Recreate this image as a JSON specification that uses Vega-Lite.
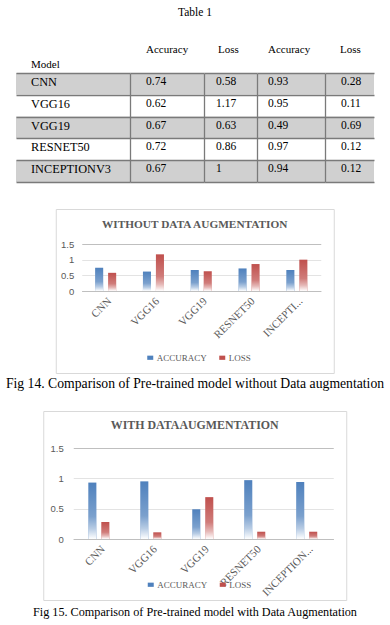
{
  "$schema": "https://vega.github.io/schema/vega-lite/v6.json",
  "background": "white",
  "padding": 0,
  "config": {"view": {"stroke": null}, "font": "Liberation Serif", "legend": {"padding": 0}, "text": {"font": "Liberation Serif"}},
  "datasets": {
    "without": [
      {"Model": "CNN", "ACCURACY": 0.74, "LOSS": 0.58},
      {"Model": "VGG16", "ACCURACY": 0.62, "LOSS": 1.17},
      {"Model": "VGG19", "ACCURACY": 0.67, "LOSS": 0.63},
      {"Model": "RESNET50", "ACCURACY": 0.72, "LOSS": 0.86},
      {"Model": "INCEPTIONV3", "ACCURACY": 0.67, "LOSS": 1}
    ],
    "with": [
      {"Model": "CNN", "ACCURACY": 0.93, "LOSS": 0.28},
      {"Model": "VGG16", "ACCURACY": 0.95, "LOSS": 0.11},
      {"Model": "VGG19", "ACCURACY": 0.49, "LOSS": 0.69},
      {"Model": "RESNET50", "ACCURACY": 0.97, "LOSS": 0.12},
      {"Model": "INCEPTIONV3", "ACCURACY": 0.94, "LOSS": 0.12}
    ]
  },
  "spacing": 0,
  "bounds": "full",
  "center": true,
  "resolve": {"scale": {"color": "independent"}, "legend": {"color": "independent"}},
  "vconcat": [
    {
      "width": 390, "height": 26,
      "data": {"values": [{"t": "Table 1"}]},
      "mark": {"type": "text", "font": "Liberation Serif", "fontSize": 11.5, "color": "black"},
      "encoding": {"text": {"field": "t", "type": "nominal"}}
    },
    {
      "width": 390, "height": 17,
      "data": {"values": [{"t": ""}]},
      "mark": {"type": "text"},
      "encoding": {"text": {"field": "t", "type": "nominal"}}
    },
    {
      "spacing": 0,
      "bounds": "flush",
      "hconcat": [
        {
          "width": 114, "height": 109,
          "data": {"name": "without"},
          "encoding": {
            "x": {"datum": "Model", "type": "nominal", "scale": {"paddingInner": 0, "paddingOuter": 0},
              "axis": {"orient": "top", "labelAlign": "left", "labelOffset": -42, "labelPadding": 4, "labelFontSize": 11, "labelColor": "black", "labelFont": "Liberation Serif", "ticks": false, "domain": false, "grid": false, "title": null, "labelAngle": 0}},
            "y": {"field": "Model", "type": "nominal", "sort": ["CNN", "VGG16", "VGG19", "RESNET50", "INCEPTIONV3"], "scale": {"paddingInner": 0, "paddingOuter": 0},
              "axis": {"labels": false, "ticks": false, "domain": false, "grid": true, "gridColor": "#7a7a7a", "gridWidth": 1.3, "gridOpacity": 1, "tickBand": "extent", "title": null, "zindex": 1}}
          },
          "layer": [
            {"mark": {"type": "rect"}, "encoding": {"fill": {"condition": {"test": "indexof(['CNN','VGG19','INCEPTIONV3'], datum.Model) >= 0", "value": "#d0d0d0"}, "value": "#ffffff"}}},
            {"mark": {"type": "text", "align": "left", "baseline": "top", "dx": 15, "dy": 3, "font": "Liberation Serif", "fontSize": 12.3, "color": "black"},
              "encoding": {"x": {"datum": "Model", "type": "nominal", "bandPosition": 0}, "y": {"field": "Model", "type": "nominal", "sort": ["CNN", "VGG16", "VGG19", "RESNET50", "INCEPTIONV3"], "bandPosition": 0}, "text": {"field": "Model", "type": "nominal"}}}
          ]
        },
        {
          "width": 74, "height": 109,
          "data": {"name": "without"},
          "encoding": {
            "x": {"datum": "Accuracy", "type": "nominal", "scale": {"paddingInner": 0, "paddingOuter": 0},
              "axis": {"orient": "top", "labelAlign": "left", "labelOffset": -21, "labelPadding": 19, "labelFontSize": 11, "labelColor": "black", "labelFont": "Liberation Serif", "ticks": false, "domain": false, "grid": false, "title": null, "labelAngle": 0}},
            "y": {"field": "Model", "type": "nominal", "sort": ["CNN", "VGG16", "VGG19", "RESNET50", "INCEPTIONV3"], "scale": {"paddingInner": 0, "paddingOuter": 0},
              "axis": {"labels": false, "ticks": false, "domain": true, "domainColor": "#7a7a7a", "domainWidth": 1.3, "grid": true, "gridColor": "#7a7a7a", "gridWidth": 1.3, "gridOpacity": 1, "tickBand": "extent", "title": null, "zindex": 1}}
          },
          "layer": [
            {"mark": {"type": "rect"}, "encoding": {"fill": {"condition": {"test": "indexof(['CNN','VGG19','INCEPTIONV3'], datum.Model) >= 0", "value": "#d0d0d0"}, "value": "#ffffff"}}},
            {"mark": {"type": "text", "align": "left", "baseline": "top", "dx": 16, "dy": 3, "font": "Liberation Serif", "fontSize": 11.5, "color": "black"},
              "encoding": {"x": {"datum": "Accuracy", "type": "nominal", "bandPosition": 0}, "y": {"field": "Model", "type": "nominal", "sort": ["CNN", "VGG16", "VGG19", "RESNET50", "INCEPTIONV3"], "bandPosition": 0}, "text": {"field": "ACCURACY", "type": "nominal"}}}
          ]
        },
        {
          "width": 53, "height": 109,
          "data": {"name": "without"},
          "encoding": {
            "x": {"datum": "Loss", "type": "nominal", "scale": {"paddingInner": 0, "paddingOuter": 0},
              "axis": {"orient": "top", "labelAlign": "left", "labelOffset": -12.5, "labelPadding": 19, "labelFontSize": 11, "labelColor": "black", "labelFont": "Liberation Serif", "ticks": false, "domain": false, "grid": false, "title": null, "labelAngle": 0}},
            "y": {"field": "Model", "type": "nominal", "sort": ["CNN", "VGG16", "VGG19", "RESNET50", "INCEPTIONV3"], "scale": {"paddingInner": 0, "paddingOuter": 0},
              "axis": {"labels": false, "ticks": false, "domain": true, "domainColor": "#7a7a7a", "domainWidth": 1.3, "grid": true, "gridColor": "#7a7a7a", "gridWidth": 1.3, "gridOpacity": 1, "tickBand": "extent", "title": null, "zindex": 1}}
          },
          "layer": [
            {"mark": {"type": "rect"}, "encoding": {"fill": {"condition": {"test": "indexof(['CNN','VGG19','INCEPTIONV3'], datum.Model) >= 0", "value": "#d0d0d0"}, "value": "#ffffff"}}},
            {"mark": {"type": "text", "align": "left", "baseline": "top", "dx": 12, "dy": 3, "font": "Liberation Serif", "fontSize": 11.5, "color": "black"},
              "encoding": {"x": {"datum": "Loss", "type": "nominal", "bandPosition": 0}, "y": {"field": "Model", "type": "nominal", "sort": ["CNN", "VGG16", "VGG19", "RESNET50", "INCEPTIONV3"], "bandPosition": 0}, "text": {"field": "LOSS", "type": "nominal"}}}
          ]
        },
        {
          "width": 68, "height": 109,
          "data": {"name": "with"},
          "encoding": {
            "x": {"datum": "Accuracy", "type": "nominal", "scale": {"paddingInner": 0, "paddingOuter": 0},
              "axis": {"orient": "top", "labelAlign": "left", "labelOffset": -23, "labelPadding": 19, "labelFontSize": 11, "labelColor": "black", "labelFont": "Liberation Serif", "ticks": false, "domain": false, "grid": false, "title": null, "labelAngle": 0}},
            "y": {"field": "Model", "type": "nominal", "sort": ["CNN", "VGG16", "VGG19", "RESNET50", "INCEPTIONV3"], "scale": {"paddingInner": 0, "paddingOuter": 0},
              "axis": {"labels": false, "ticks": false, "domain": true, "domainColor": "#7a7a7a", "domainWidth": 1.3, "grid": true, "gridColor": "#7a7a7a", "gridWidth": 1.3, "gridOpacity": 1, "tickBand": "extent", "title": null, "zindex": 1}}
          },
          "layer": [
            {"mark": {"type": "rect"}, "encoding": {"fill": {"condition": {"test": "indexof(['CNN','VGG19','INCEPTIONV3'], datum.Model) >= 0", "value": "#d0d0d0"}, "value": "#ffffff"}}},
            {"mark": {"type": "text", "align": "left", "baseline": "top", "dx": 11, "dy": 3, "font": "Liberation Serif", "fontSize": 11.5, "color": "black"},
              "encoding": {"x": {"datum": "Accuracy", "type": "nominal", "bandPosition": 0}, "y": {"field": "Model", "type": "nominal", "sort": ["CNN", "VGG16", "VGG19", "RESNET50", "INCEPTIONV3"], "bandPosition": 0}, "text": {"field": "ACCURACY", "type": "nominal"}}}
          ]
        },
        {
          "width": 49, "height": 109,
          "data": {"name": "with"},
          "encoding": {
            "x": {"datum": "Loss", "type": "nominal", "scale": {"paddingInner": 0, "paddingOuter": 0},
              "axis": {"orient": "top", "labelAlign": "left", "labelOffset": -9.5, "labelPadding": 19, "labelFontSize": 11, "labelColor": "black", "labelFont": "Liberation Serif", "ticks": false, "domain": false, "grid": false, "title": null, "labelAngle": 0}},
            "y": {"field": "Model", "type": "nominal", "sort": ["CNN", "VGG16", "VGG19", "RESNET50", "INCEPTIONV3"], "scale": {"paddingInner": 0, "paddingOuter": 0},
              "axis": {"labels": false, "ticks": false, "domain": true, "domainColor": "#7a7a7a", "domainWidth": 1.3, "grid": true, "gridColor": "#7a7a7a", "gridWidth": 1.3, "gridOpacity": 1, "tickBand": "extent", "title": null, "zindex": 1}}
          },
          "layer": [
            {"mark": {"type": "rect"}, "encoding": {"fill": {"condition": {"test": "indexof(['CNN','VGG19','INCEPTIONV3'], datum.Model) >= 0", "value": "#d0d0d0"}, "value": "#ffffff"}}},
            {"mark": {"type": "text", "align": "left", "baseline": "top", "dx": 16, "dy": 3, "font": "Liberation Serif", "fontSize": 11.5, "color": "black"},
              "encoding": {"x": {"datum": "Loss", "type": "nominal", "bandPosition": 0}, "y": {"field": "Model", "type": "nominal", "sort": ["CNN", "VGG16", "VGG19", "RESNET50", "INCEPTIONV3"], "bandPosition": 0}, "text": {"field": "LOSS", "type": "nominal"}}}
          ]
        }
      ]
    },
    {
      "width": 390, "height": 26,
      "data": {"values": [{"t": ""}]},
      "mark": {"type": "text"},
      "encoding": {"text": {"field": "t", "type": "nominal"}}
    },
    {
      "width": 278, "height": 164,
      "view": {"stroke": "#d9d9d9"},
      "title": {"text": "WITHOUT DATA AUGMENTATION", "font": "Liberation Serif", "fontSize": 11.3, "fontWeight": "bold", "color": "#595959", "offset": -30, "baseline": "alphabetic", "anchor": "middle"},
      "data": {"name": "without"},
      "transform": [{"fold": ["ACCURACY", "LOSS"], "as": ["series", "value"]}],
      "encoding": {
        "x": {"field": "Model", "type": "nominal", "sort": ["CNN", "VGG16", "VGG19", "RESNET50", "INCEPTIONV3"],
          "scale": {"range": [26, 265], "paddingInner": 0.56, "paddingOuter": 0.28},
          "axis": {"title": null, "orient": "bottom", "offset": -82, "ticks": false, "domainColor": "#bfbfbf", "labelAngle": -45, "labelFont": "Liberation Serif", "labelFontSize": 11, "labelColor": "#595959", "labelPadding": 4, "grid": false, "labelExpr": "datum.label == 'INCEPTIONV3' ? 'INCEPTI...' : datum.label"}},
        "xOffset": {"field": "series", "type": "nominal", "scale": {"paddingInner": 0.38, "paddingOuter": 0}},
        "y": {"field": "value", "type": "quantitative",
          "scale": {"domain": [0, 1.5], "range": [82, 35], "nice": false},
          "axis": {"title": null, "values": [0, 0.5, 1, 1.5], "labelExpr": "'' + datum.value", "offset": -20, "ticks": false, "domain": false, "grid": true, "gridColor": {"condition": {"test": "datum.value == 1.5 || datum.value == 0", "value": "#bfbfbf"}, "value": "#e3e3e3"}, "labelFont": "Liberation Sans", "labelFontSize": 9.5, "labelColor": "#595959", "labelPadding": 2}}
      },
      "layer": [
        {"mark": {"type": "bar"},
          "encoding": {"color": {"field": "series", "type": "nominal", "scale": {"domain": ["ACCURACY", "LOSS"], "range": ["#4f81bd", "#c0504d"]},
            "legend": {"orient": "none", "legendX": 90, "legendY": 144, "direction": "horizontal", "title": null, "symbolType": "M-1,-0.7H1V0.7H-1Z", "symbolSize": 36, "symbolStrokeWidth": 0, "labelFont": "Liberation Serif", "labelFontSize": 9, "labelColor": "#595959", "labelOffset": 2, "columnPadding": 10}}}},
        {"mark": {"type": "bar", "fill": {"gradient": "linear", "x1": 0, "y1": 0, "x2": 0, "y2": 1, "stops": [{"offset": 0, "color": "rgba(255,255,255,0)"}, {"offset": 0.6, "color": "rgba(255,255,255,0.25)"}, {"offset": 0.82, "color": "rgba(255,255,255,0.6)"}, {"offset": 1, "color": "rgba(255,255,255,1)"}]}}}
      ]
    },
    {
      "width": 390, "height": 20,
      "data": {"values": [{"t": "Fig 14. Comparison of Pre-trained model without Data augmentation"}]},
      "mark": {"type": "text", "font": "Liberation Serif", "fontSize": 13.7, "color": "black"},
      "encoding": {"text": {"field": "t", "type": "nominal"}}
    },
    {
      "width": 390, "height": 16,
      "data": {"values": [{"t": ""}]},
      "mark": {"type": "text"},
      "encoding": {"text": {"field": "t", "type": "nominal"}}
    },
    {
      "width": 303, "height": 189,
      "view": {"stroke": "#d9d9d9"},
      "title": {"text": "WITH DATAAUGMENTATION", "font": "Liberation Serif", "fontSize": 11.9, "fontWeight": "bold", "color": "#595959", "offset": -30, "baseline": "alphabetic", "anchor": "middle"},
      "data": {"name": "with"},
      "transform": [{"fold": ["ACCURACY", "LOSS"], "as": ["series", "value"]}],
      "encoding": {
        "x": {"field": "Model", "type": "nominal", "sort": ["CNN", "VGG16", "VGG19", "RESNET50", "INCEPTIONV3"],
          "scale": {"range": [30, 290], "paddingInner": 0.577, "paddingOuter": 0.29},
          "axis": {"title": null, "orient": "bottom", "offset": -61, "ticks": false, "domainColor": "#bfbfbf", "labelAngle": -45, "labelFont": "Liberation Serif", "labelFontSize": 11, "labelColor": "#595959", "labelPadding": 4, "grid": false, "labelExpr": "datum.label == 'INCEPTIONV3' ? 'INCEPTION...' : datum.label"}},
        "xOffset": {"field": "series", "type": "nominal", "scale": {"paddingInner": 0.43, "paddingOuter": 0}},
        "y": {"field": "value", "type": "quantitative",
          "scale": {"domain": [0, 1.5], "range": [128, 37], "nice": false},
          "axis": {"title": null, "values": [0, 0.5, 1, 1.5], "labelExpr": "'' + datum.value", "offset": -22, "ticks": false, "domain": false, "grid": true, "gridColor": {"condition": {"test": "datum.value == 1.5 || datum.value == 0", "value": "#bfbfbf"}, "value": "#e3e3e3"}, "labelFont": "Liberation Sans", "labelFontSize": 9.5, "labelColor": "#595959", "labelPadding": 2}}
      },
      "layer": [
        {"mark": {"type": "bar"},
          "encoding": {"color": {"field": "series", "type": "nominal", "scale": {"domain": ["ACCURACY", "LOSS"], "range": ["#4f81bd", "#c0504d"]},
            "legend": {"orient": "none", "legendX": 103, "legendY": 169, "direction": "horizontal", "title": null, "symbolType": "M-1,-0.7H1V0.7H-1Z", "symbolSize": 36, "symbolStrokeWidth": 0, "labelFont": "Liberation Serif", "labelFontSize": 9, "labelColor": "#595959", "labelOffset": 2, "columnPadding": 10}}}},
        {"mark": {"type": "bar", "fill": {"gradient": "linear", "x1": 0, "y1": 0, "x2": 0, "y2": 1, "stops": [{"offset": 0, "color": "rgba(255,255,255,0)"}, {"offset": 0.6, "color": "rgba(255,255,255,0.25)"}, {"offset": 0.82, "color": "rgba(255,255,255,0.6)"}, {"offset": 1, "color": "rgba(255,255,255,1)"}]}}}
      ]
    },
    {
      "width": 390, "height": 22,
      "data": {"values": [{"t": "Fig 15. Comparison of Pre-trained model with Data Augmentation"}]},
      "mark": {"type": "text", "font": "Liberation Serif", "fontSize": 12.2, "color": "black"},
      "encoding": {"text": {"field": "t", "type": "nominal"}}
    }
  ]
}
